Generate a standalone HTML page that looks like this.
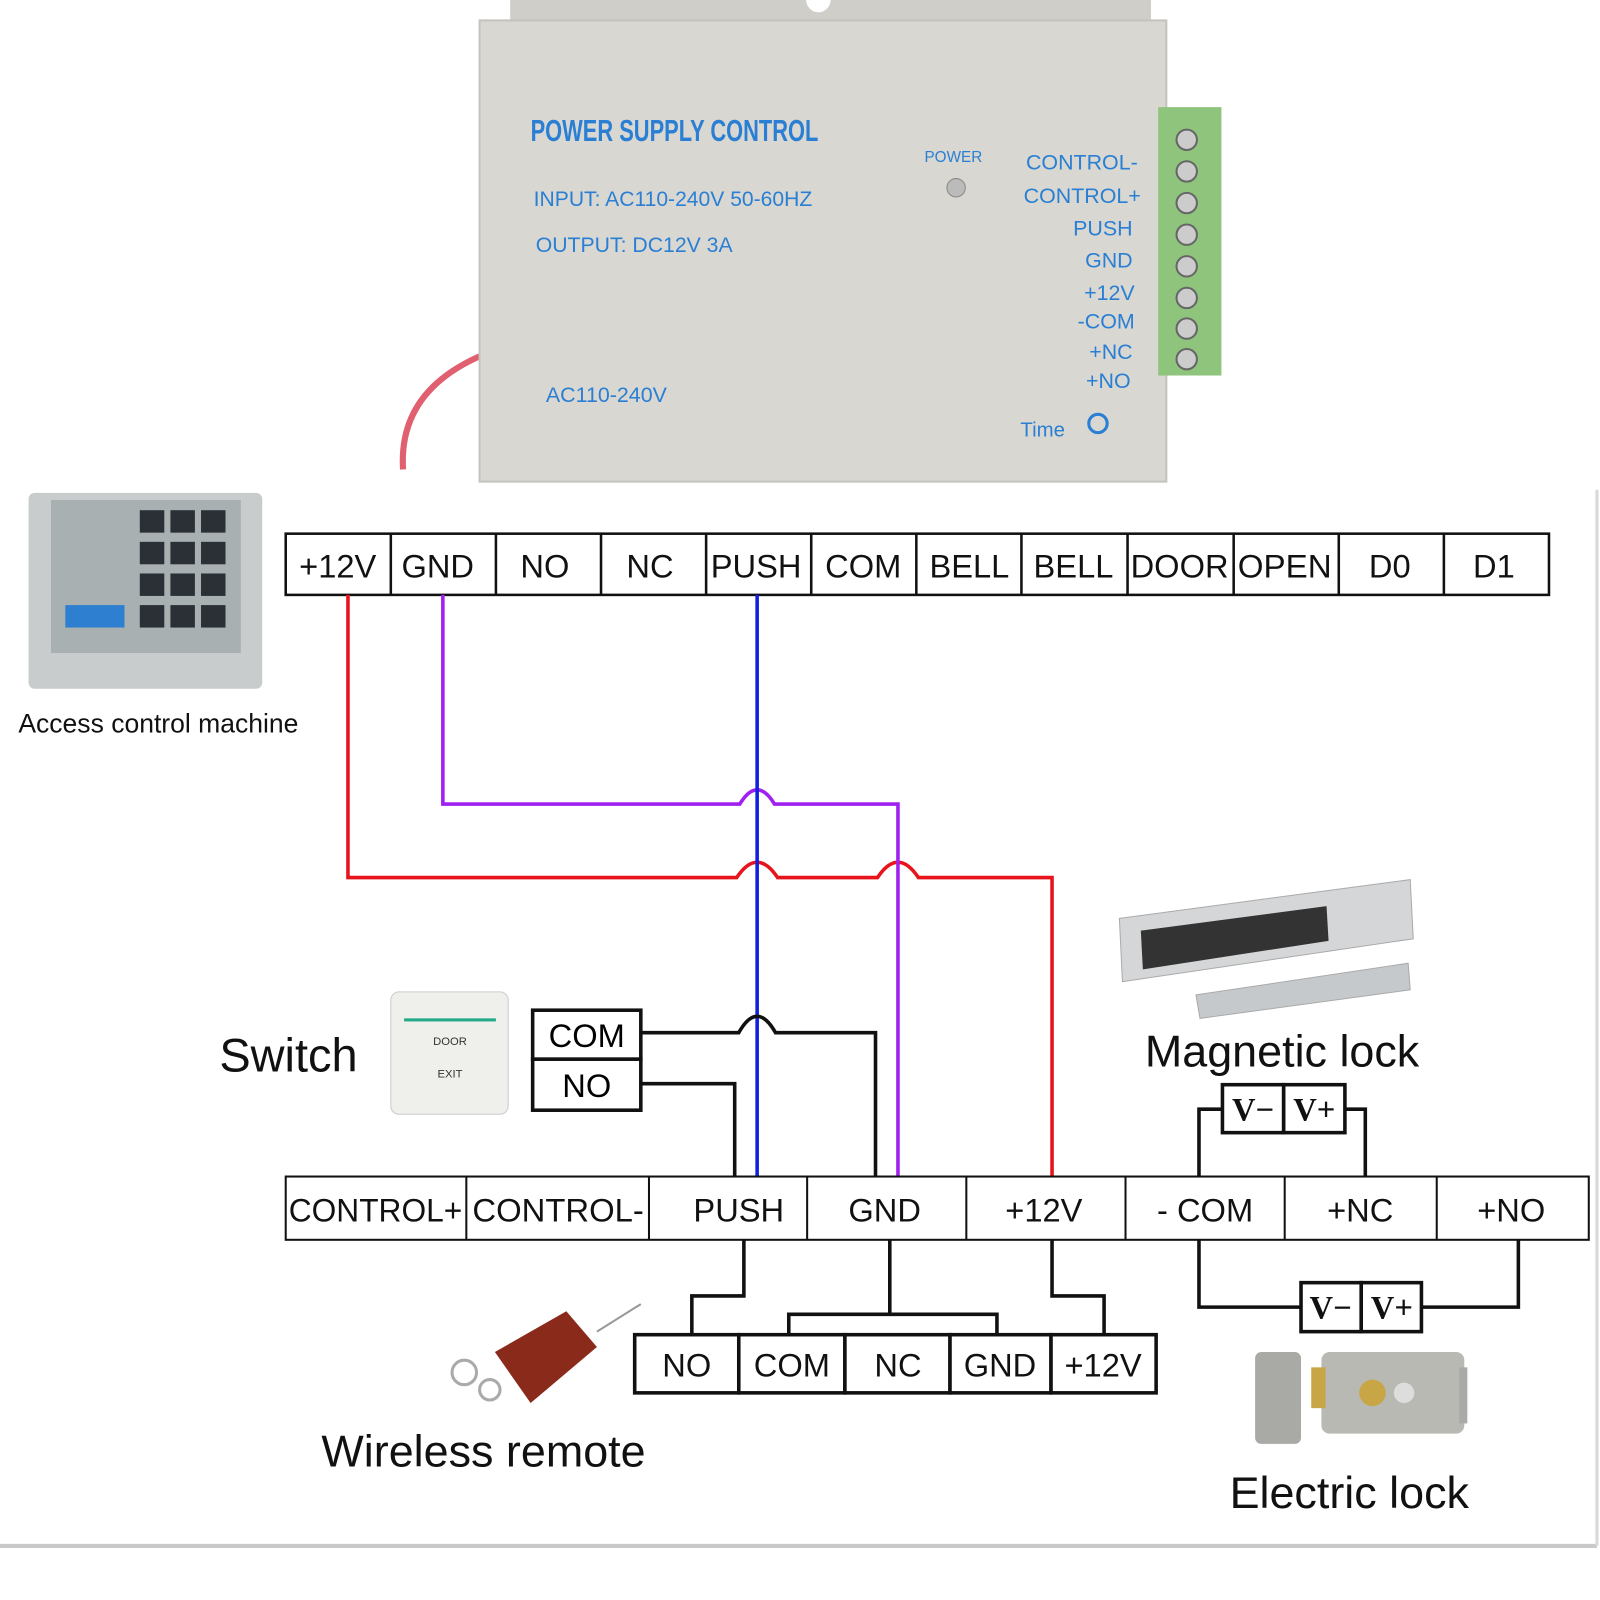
<!DOCTYPE html>
<html><head><meta charset="utf-8"><style>
html,body{margin:0;padding:0;background:#fff;}
svg{display:block;}
text{font-family:"Liberation Sans","DejaVu Sans",sans-serif;}
</style></head><body>
<svg width="1600" height="1600" viewBox="0 0 1568 1568" xmlns="http://www.w3.org/2000/svg">
<rect width="1568" height="1568" fill="#fff"/>
<line x1="0" y1="1515" x2="1565" y2="1515" stroke="#c8c8c8" stroke-width="4"/>
<line x1="1565" y1="480" x2="1565" y2="1515" stroke="#d8d8d8" stroke-width="3"/>

<path d="M395 460 Q390 380 480 345" stroke="#e06070" stroke-width="6" fill="none"/>
<rect x="500" y="0" width="628" height="60" fill="#cfcec8"/>
<circle cx="802" cy="0" r="12" fill="#fff"/>
<g stroke="#777" stroke-width="3">
<line x1="640" y1="30" x2="660" y2="42"/><line x1="690" y1="30" x2="710" y2="42"/><line x1="740" y1="30" x2="760" y2="42"/><line x1="790" y1="30" x2="810" y2="42"/><line x1="840" y1="30" x2="860" y2="42"/><line x1="890" y1="30" x2="910" y2="42"/><line x1="940" y1="30" x2="960" y2="42"/>
</g>
<rect x="470" y="20" width="673" height="452" fill="#d8d7d1" stroke="#c4c3bd" stroke-width="2"/>
<rect x="1135" y="105" width="62" height="263" fill="#8fc47c"/>
<g fill="#ccc" stroke="#666" stroke-width="2">
<circle cx="1163" cy="137" r="10"/><circle cx="1163" cy="168" r="10"/><circle cx="1163" cy="199" r="10"/><circle cx="1163" cy="230" r="10"/><circle cx="1163" cy="261" r="10"/><circle cx="1163" cy="292" r="10"/><circle cx="1163" cy="322" r="10"/><circle cx="1163" cy="352" r="10"/>
</g>
<g fill="#2a7fd4">
<text x="520" y="138" font-size="30" font-weight="bold" textLength="282" lengthAdjust="spacingAndGlyphs">POWER SUPPLY CONTROL</text>
<text x="523" y="202" font-size="21" textLength="273" lengthAdjust="spacingAndGlyphs">INPUT: AC110-240V 50-60HZ</text>
<text x="525" y="247" font-size="21" textLength="193" lengthAdjust="spacingAndGlyphs">OUTPUT: DC12V  3A</text>
<text x="535" y="394" font-size="21">AC110-240V</text>
<text x="906" y="159" font-size="15">POWER</text>
<g font-size="21" text-anchor="end">
<text x="1115" y="166">CONTROL-</text>
<text x="1118" y="199">CONTROL+</text>
<text x="1110" y="231">PUSH</text>
<text x="1110" y="262">GND</text>
<text x="1112" y="294">+12V</text>
<text x="1112" y="322">-COM</text>
<text x="1110" y="352">+NC</text>
<text x="1108" y="380">+NO</text>
</g>
<text x="1000" y="428" font-size="20">Time</text>
<circle cx="1076" cy="415" r="9" fill="none" stroke="#2a7fd4" stroke-width="3"/>
</g>
<circle cx="937" cy="184" r="9" fill="#bbb" stroke="#888"/>

<rect x="28" y="483" width="229" height="192" fill="#c9cccc" rx="6"/>
<rect x="50" y="490" width="186" height="150" fill="#a9b0b2"/>
<g fill="#2b2f36">
<rect x="137" y="500" width="24" height="22"/><rect x="167" y="500" width="24" height="22"/><rect x="197" y="500" width="24" height="22"/>
<rect x="137" y="531" width="24" height="22"/><rect x="167" y="531" width="24" height="22"/><rect x="197" y="531" width="24" height="22"/>
<rect x="137" y="562" width="24" height="22"/><rect x="167" y="562" width="24" height="22"/><rect x="197" y="562" width="24" height="22"/>
<rect x="137" y="593" width="24" height="22"/><rect x="167" y="593" width="24" height="22"/><rect x="197" y="593" width="24" height="22"/>
</g>
<rect x="64" y="593" width="58" height="22" fill="#2f7fd0"/>
<text x="18" y="718" font-size="26" fill="#111">Access control machine</text>

<g fill="none" stroke="#111" stroke-width="2.5">
<rect x="280" y="523" width="1238" height="60"/>
<line x1="383" y1="523" x2="383" y2="583"/><line x1="486" y1="523" x2="486" y2="583"/><line x1="589" y1="523" x2="589" y2="583"/><line x1="692" y1="523" x2="692" y2="583"/><line x1="795" y1="523" x2="795" y2="583"/><line x1="898" y1="523" x2="898" y2="583"/><line x1="1001" y1="523" x2="1001" y2="583"/><line x1="1105" y1="523" x2="1105" y2="583"/><line x1="1209" y1="523" x2="1209" y2="583"/><line x1="1312" y1="523" x2="1312" y2="583"/><line x1="1415" y1="523" x2="1415" y2="583"/>
</g>
<g font-size="32" fill="#111" text-anchor="middle">
<text x="331" y="566">+12V</text><text x="429" y="566">GND</text><text x="534" y="566">NO</text><text x="637" y="566">NC</text><text x="741" y="566">PUSH</text><text x="846" y="566">COM</text><text x="950" y="566">BELL</text><text x="1052" y="566">BELL</text><text x="1156" y="566" textLength="96" lengthAdjust="spacingAndGlyphs">DOOR</text><text x="1259" y="566" textLength="92" lengthAdjust="spacingAndGlyphs">OPEN</text><text x="1362" y="566">D0</text><text x="1464" y="566">D1</text>
</g>

<path d="M341 583 V860 H722 Q742 830 762 860 H860 Q880 830 900 860 H1031 V1153" stroke="#e8141c" stroke-width="3.5" fill="none"/>
<path d="M434 583 V788 H725 Q742 760 759 788 H880 V1153" stroke="#a020f0" stroke-width="3.5" fill="none"/>
<path d="M742 583 V1153" stroke="#1020e0" stroke-width="3.5" fill="none"/>
<g stroke="#111" stroke-width="3.5" fill="none">
<path d="M628 1012 H724 Q742 980 760 1012 H858 V1153"/>
<path d="M628 1062 H720 V1153"/>
<path d="M1198 1087 H1175 V1153"/>
<path d="M1318 1087 H1338 V1153"/>
<path d="M1175 1215 V1281 H1275"/>
<path d="M1393 1281 H1488 V1215"/>
<path d="M729 1215 V1270 H678 V1308"/>
<path d="M872 1215 V1288 M773 1308 V1288 H977 V1308"/>
<path d="M1031 1215 V1270 H1082 V1308"/>
</g>

<rect x="383" y="972" width="115" height="120" rx="8" fill="#efefec" stroke="#ccc"/>
<rect x="396" y="998" width="90" height="3" fill="#2a8"/>
<text x="441" y="1024" font-size="11" text-anchor="middle" fill="#333">DOOR</text>
<text x="441" y="1056" font-size="11" text-anchor="middle" fill="#333">EXIT</text>
<text x="215" y="1050" font-size="46" fill="#111">Switch</text>
<g fill="#fff" stroke="#111" stroke-width="3.5">
<rect x="522" y="990" width="106" height="48"/><rect x="522" y="1038" width="106" height="50"/>
</g>
<text x="575" y="1026" font-size="32" text-anchor="middle">COM</text>
<text x="575" y="1075" font-size="32" text-anchor="middle">NO</text>

<path d="M1097 900 L1382 862 L1385 920 L1100 962 Z" fill="#d4d6d8" stroke="#aaa"/>
<path d="M1118 912 L1300 888 L1302 922 L1120 950 Z" fill="#333"/>
<path d="M1172 975 L1380 944 L1382 970 L1176 998 Z" fill="#c6c9cc" stroke="#aaa"/>
<text x="1122" y="1045" font-size="44" fill="#111">Magnetic lock</text>
<g fill="#fff" stroke="#111" stroke-width="3.5">
<rect x="1198" y="1063" width="60" height="47"/><rect x="1258" y="1063" width="60" height="47"/>
<rect x="1275" y="1257" width="59" height="48"/><rect x="1334" y="1257" width="59" height="48"/>
</g>
<g font-size="32" text-anchor="middle" fill="#111" font-weight="bold">
<text x="1228" y="1098" style="font-family:'Liberation Serif',serif">V−</text><text x="1288" y="1098" style="font-family:'Liberation Serif',serif">V+</text>
<text x="1304" y="1292" style="font-family:'Liberation Serif',serif">V−</text><text x="1364" y="1292" style="font-family:'Liberation Serif',serif">V+</text>
</g>

<g fill="none" stroke="#111" stroke-width="2">
<rect x="280" y="1153" width="1277" height="62"/>
<line x1="457" y1="1153" x2="457" y2="1215"/><line x1="636" y1="1153" x2="636" y2="1215"/><line x1="791" y1="1153" x2="791" y2="1215"/><line x1="947" y1="1153" x2="947" y2="1215"/><line x1="1103" y1="1153" x2="1103" y2="1215"/><line x1="1259" y1="1153" x2="1259" y2="1215"/><line x1="1408" y1="1153" x2="1408" y2="1215"/>
</g>
<g font-size="32" fill="#111" text-anchor="middle">
<text x="368" y="1197" textLength="170" lengthAdjust="spacingAndGlyphs">CONTROL+</text>
<text x="547" y="1197" textLength="168" lengthAdjust="spacingAndGlyphs">CONTROL-</text>
<text x="724" y="1197">PUSH</text><text x="867" y="1197">GND</text><text x="1023" y="1197">+12V</text><text x="1181" y="1197">- COM</text><text x="1333" y="1197">+NC</text><text x="1481" y="1197">+NO</text>
</g>

<path d="M485 1325 L555 1285 L585 1320 L520 1375 Z" fill="#8a2a1a"/>
<line x1="585" y1="1305" x2="628" y2="1278" stroke="#999" stroke-width="2"/>
<circle cx="455" cy="1345" r="12" fill="none" stroke="#aaa" stroke-width="3"/>
<circle cx="480" cy="1362" r="10" fill="none" stroke="#aaa" stroke-width="3"/>
<g fill="#fff" stroke="#111" stroke-width="3.5">
<rect x="622" y="1308" width="102" height="57"/><rect x="724" y="1308" width="104" height="57"/><rect x="828" y="1308" width="103" height="57"/><rect x="931" y="1308" width="99" height="57"/><rect x="1030" y="1308" width="103" height="57"/>
</g>
<g font-size="32" fill="#111" text-anchor="middle">
<text x="673" y="1349">NO</text><text x="776" y="1349">COM</text><text x="880" y="1349">NC</text><text x="980" y="1349">GND</text><text x="1081" y="1349">+12V</text>
</g>
<text x="315" y="1437" font-size="44" fill="#111">Wireless remote</text>

<rect x="1255" y="1353" width="45" height="90" rx="6" fill="#a9aaa5" transform="translate(-25,-28)"/>
<rect x="1295" y="1325" width="140" height="80" rx="8" fill="#b8b9b2"/>
<rect x="1285" y="1340" width="14" height="40" fill="#c8a646"/>
<rect x="1430" y="1340" width="8" height="55" fill="#aaa"/>
<circle cx="1345" cy="1365" r="13" fill="#c8a646"/>
<circle cx="1376" cy="1365" r="10" fill="#ddd"/>
<text x="1205" y="1478" font-size="44" fill="#111">Electric lock</text>
</svg>
</body></html>
